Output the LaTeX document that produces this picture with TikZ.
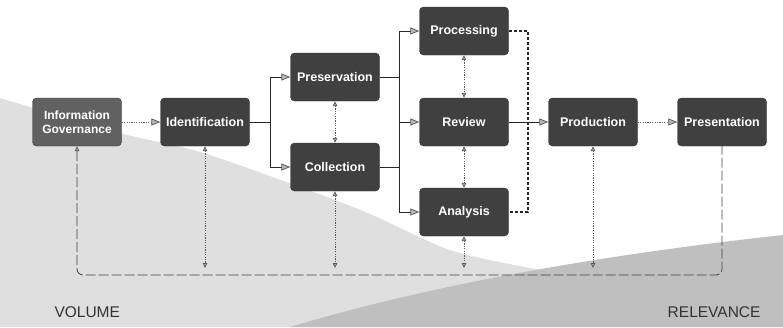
\documentclass[tikz,border=0pt]{standalone}
\usepackage{fontspec}
\setmainfont{Liberation Sans}
\usetikzlibrary{arrows.meta}
\begin{document}
\begin{tikzpicture}[x=1pt,y=-1pt,
  box/.style={draw=black!80, fill=black!75, rounded corners=4pt, minimum width=89pt,
    minimum height=48pt, text=white, font=\bfseries\fontsize{12.5}{14}\selectfont,
    align=center, inner sep=1pt},
  igbox/.style={box, fill=black!62, font=\bfseries\fontsize{12}{14}\selectfont},
  bigtip/.tip={Triangle[length=9pt,width=7pt,fill=gray!55,color=black!65]},
  smalltip/.tip={Triangle[length=5pt,width=4.5pt,fill=gray!55,color=black!65]},
  flow/.style={draw=black!85, line width=0.8pt, -bigtip},
  plain/.style={draw=black!85, line width=0.8pt},
  dotflow/.style={draw=black!60, line width=0.8pt, dash pattern=on 1.2pt off 1.2pt, -bigtip},
  link/.style={draw=black!65, line width=0.8pt, dash pattern=on 1.2pt off 1.2pt, smalltip-smalltip},
  bold dash/.style={draw=black!85, line width=1.3pt, dash pattern=on 3pt off 2pt},
  baseline dash/.style={draw=black!75, line width=0.8pt, dash pattern=on 10pt off 3pt},
  label/.style={text=black!80, font=\fontsize{15.5}{17}\selectfont}
]
\useasboundingbox (0,0) rectangle (783,327);
% volume region (light)
\fill[gray!25] plot[smooth] coordinates {(0,98) (120,133) (200,152) (300,187) (370,214) (450,250) (530,268) (620,284) (783,300)}
  -- (783,327) -- (0,327) -- cycle;
% relevance region (darker)
\fill[gray!50] (290,327) .. controls (430,285) and (600,255) .. (783,235) -- (783,327) -- cycle;

% nodes
\node[igbox] (ig)   at (77,122)  {Information\\Governance};
\node[box]   (id)   at (205,122) {Identification};
\node[box]   (pres) at (335,77)  {Preservation};
\node[box]   (col)  at (335,167) {Collection};
\node[box]   (proc) at (464,31)  {Processing};
\node[box]   (rev)  at (464,122) {Review};
\node[box]   (ana)  at (464,212) {Analysis};
\node[box]   (prod) at (593,122) {Production};
\node[box]   (pst)  at (722,122) {Presentation};

\coordinate (j1) at (270,122);
\coordinate (j2) at (399,122);
\coordinate (j3) at (528,122);
\coordinate (base) at (400,275);

% main flow
\draw[dotflow] (ig) -- (id);
\draw[plain] (id) -- (j1);
\draw[flow] (j1) |- (pres.west);
\draw[flow] (j1) |- (col.west);
\draw[plain] (pres.east) -- (pres.east -| j2);
\draw[plain] (col.east) -- (col.east -| j2);
\draw[flow] (j2) |- (proc.west);
\draw[flow] (j2) |- (ana.west);
\draw[flow] (j2) -- (rev.west);
\draw[bold dash] (proc.east) -| (j3) |- (ana.east);
\draw[flow] (rev) -- (prod);
\draw[dotflow] (prod) -- (pst);

% links between stages
\draw[link] (pres) -- (col);
\draw[link] (proc) -- (rev);
\draw[link] (rev) -- (ana);

% baseline
\draw[baseline dash, rounded corners=6pt, smalltip-] (ig.south) |- (base) -| (pst.south);
\draw[link] (id.south) -- (id.south |- 0,268);
\draw[link] (col.south) -- (col.south |- 0,268);
\draw[link] (ana.south) -- (ana.south |- 0,268);
\draw[link] (prod.south) -- (prod.south |- 0,268);

% labels
\node[label, anchor=west] (vol) at (51,312) {VOLUME};
\node[label, anchor=east] (rel) at (764,312) {RELEVANCE};
\end{tikzpicture}
\end{document}
